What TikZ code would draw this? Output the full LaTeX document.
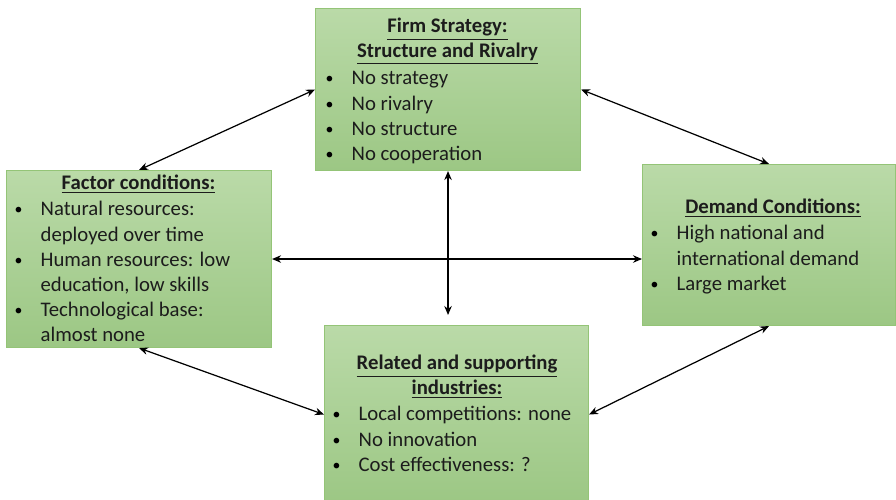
\documentclass[tikz,border=0pt]{standalone}
\usepackage{fontspec}
\setmainfont{Carlito}
\usepackage{xcolor}
\usepackage{tikz}
\usetikzlibrary{arrows.meta}
\usetikzlibrary{positioning}

\definecolor{boxtop}{HTML}{BADAA8}
\definecolor{boxbot}{HTML}{9CC784}
\definecolor{boxline}{HTML}{94C477}
\definecolor{ink}{HTML}{1C1C1C}

\newcommand{\bl}{\raisebox{0.6pt}{\fontsize{9}{10}\selectfont\textcolor{black}{\textbullet}}}

\begin{document}
\begin{tikzpicture}[
  box/.style={rectangle,draw=boxline,line width=0.6pt,top color=boxtop,bottom color=boxbot,anchor=north west,inner sep=0pt},
  head/.style={font=\fontsize{11.8}{14.2}\selectfont\bfseries,text=ink,anchor=base,inner sep=0pt},
  list/.style={font=\fontsize{11.8}{14.3}\selectfont,text=ink,anchor=base west,inner sep=0pt},
  <->, >={Stealth[length=1.8mm,width=1.5mm]}, line width=0.7pt
]
  \useasboundingbox (0,0) rectangle (17.92,-10);

  \node[box,minimum width=5.30cm,minimum height=3.24cm] (firm)    at (6.30,-0.16) {};
  \node[box,minimum width=5.30cm,minimum height=3.54cm] (factor)  at (0.12,-3.40) {};
  \node[box,minimum width=5.06cm,minimum height=3.22cm] (demand)  at (12.84,-3.28) {};
  \node[box,minimum width=5.28cm,minimum height=3.56cm] (related) at (6.48,-6.50) {};

  % titles
  \node[head] (firm-head) at (8.95,-0.66)
    {\begin{tabular}[t]{@{}c@{}}\underline{Firm Strategy:}\\\underline{Structure and Rivalry}\end{tabular}};
  \node[head] (factor-head) at (2.77,-3.80)
    {\begin{tabular}[t]{@{}c@{}}\underline{Factor conditions:}\end{tabular}};
  \node[head] (demand-head) at (15.46,-4.28)
    {\begin{tabular}[t]{@{}c@{}}\underline{Demand Conditions:}\end{tabular}};
  \node[head] (related-head) at (9.14,-7.40)
    {\begin{tabular}[t]{@{}c@{}}\underline{Related and supporting}\\\underline{industries:}\end{tabular}};

  % bullet lists
  \node[list] (firm-list) at (6.50,-1.70)
    {\begin{tabular}[t]{@{}p{0.52cm}@{}l@{}}
      \bl & No strategy\\ \bl & No rivalry\\ \bl & No structure\\ \bl & No cooperation
    \end{tabular}};
  \node[list] (factor-list) at (0.28,-4.32)
    {\begin{tabular}[t]{@{}p{0.52cm}@{}l@{}}
      \bl & Natural resources:\\ & deployed over time\\
      \bl & Human resources: low\\ & education, low skills\\
      \bl & Technological base:\\ & almost none
    \end{tabular}};
  \node[list] (demand-list) at (13.00,-4.80)
    {\begin{tabular}[t]{@{}p{0.52cm}@{}l@{}}
      \bl & High national and\\ & international demand\\ \bl & Large market
    \end{tabular}};
  \node[list] (related-list) at (6.64,-8.42)
    {\begin{tabular}[t]{@{}p{0.52cm}@{}l@{}}
      \bl & Local competitions: none\\ \bl & No innovation\\ \bl & Cost effectiveness: ?
    \end{tabular}};

  % links between the four conditions
  \draw (factor.north) -- (firm.west);
  \draw (firm.east) -- (demand.north);
  \draw (factor.south) -- (related.west);
  \draw (demand.south) -- (related.east);
  \draw (factor.east) -- (factor.east -| demand.west);
  \draw[shorten >=0.2cm] (firm.south) -- (firm.south |- related.north);
\end{tikzpicture}
\end{document}
